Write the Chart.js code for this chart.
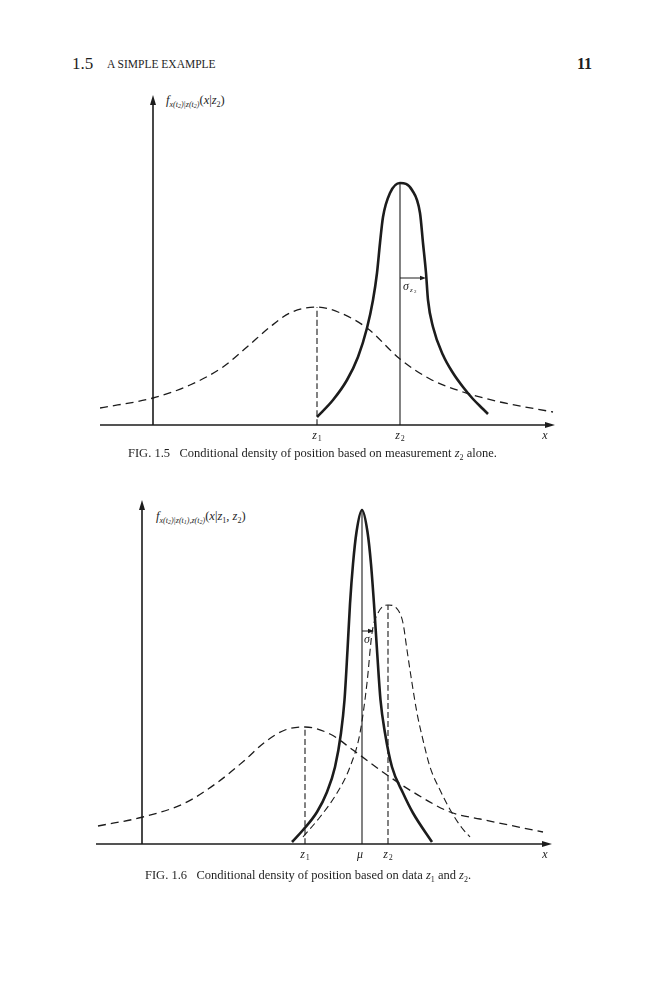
<!DOCTYPE html>
<html>
<head>
<meta charset="utf-8">
<script src="https://cdn.jsdelivr.net/npm/chart.js@4.4.1/dist/chart.umd.min.js"></script>
<style>
body { margin: 0; background: #fff; width: 666px; height: 1000px; position: relative; overflow: hidden;
       font-family: "Liberation Serif", "DejaVu Serif", serif; color: #1e1e1e; }
.txt { position: absolute; white-space: pre; line-height: 1; }
.ylab { position: absolute; white-space: nowrap; font-size: 12.5px; line-height: 1; }
.ylab .s1 { font-size: 8px; vertical-align: -3px; font-style: italic; }
.ylab .s2 { font-size: 6px; vertical-align: -1px; }
.ylab .s3 { font-size: 8px; vertical-align: -3px; }
canvas { position: absolute; left: 0; }
</style>
</head>
<body>
<div class="txt" style="left:72px;top:55px;font-size:17px">1.5</div>
<div class="txt" style="left:107px;top:59px;font-size:11.5px">A SIMPLE EXAMPLE</div>
<div class="txt" style="left:577px;top:56px;font-size:16px;font-weight:bold">11</div>

<div class="ylab" style="left:166px;top:94px"><i>f</i><span class="s1">x(t<span class="s2">2</span>)|z(t<span class="s2">2</span>)</span>(<i>x</i>|<i>z</i><span class="s3">2</span>)</div>
<canvas id="fig15" width="666" height="370" style="top:80px;width:666px;height:370px"></canvas>
<div class="txt" style="left:128px;top:447px;font-size:12.5px">FIG. 1.5   Conditional density of position based on measurement <i>z</i><span style="font-size:8px;vertical-align:-3px">2</span> alone.</div>

<div class="ylab" style="left:156px;top:510px"><i>f</i><span class="s1">x(t<span class="s2">2</span>)|z(t<span class="s2">1</span>),z(t<span class="s2">2</span>)</span>(<i>x</i>|<i>z</i><span class="s3">1</span>, <i>z</i><span class="s3">2</span>)</div>
<canvas id="fig16" width="666" height="385" style="top:485px;width:666px;height:385px"></canvas>
<div class="txt" style="left:145px;top:869px;font-size:12.5px">FIG. 1.6   Conditional density of position based on data <i>z</i><span style="font-size:8px;vertical-align:-3px">1</span> and <i>z</i><span style="font-size:8px;vertical-align:-3px">2</span>.</div>

<script>
// ---- Fig. 1.5 : density from z2 alone, with the z1 density dashed ----
var fig15Range = [-5.3, 40.2];
var fig15Top = 3.3;
var fig15PriorX = [-5.3, 0, 3.7, 7.0, 9.4, 11.7, 13.7, 16.4, 18.5, 21.4, 24.7, 27.7, 31.0, 34.7, 40.0];
var fig15PriorY = [0.17, 0.27, 0.40, 0.58, 0.78, 0.98, 1.12, 1.18, 1.13, 0.97, 0.66, 0.46, 0.33, 0.23, 0.13];
var fig15MeasX = [16.4, 18.0, 19.4, 20.5, 21.4, 22.0, 22.4, 22.7, 23.0, 23.7, 24.7, 25.9, 26.7, 27.0, 27.3, 27.5, 28.0, 29.0, 30.0, 31.0, 32.0, 33.0, 33.5];
var fig15MeasY = [0.08, 0.25, 0.45, 0.68, 0.97, 1.25, 1.52, 1.82, 2.08, 2.32, 2.42, 2.35, 2.12, 1.82, 1.52, 1.25, 0.98, 0.70, 0.52, 0.38, 0.26, 0.16, 0.11];
var fig15Z1 = 16.4, fig15Z1Peak = 1.18;
var fig15Z2 = 24.7, fig15Z2Peak = 2.42;
var fig15Sigma = 2.6, fig15SigmaLevel = 1.47;
var fig15TickValues = [16.4, 24.7, 39.2];
var fig15TickLabels = ['z|1', 'z|2', 'x'];

// ---- Fig. 1.6 : combined density from z1 and z2 ----
var fig16Range = [-4.6, 41.0];
var fig16Top = 3.44;
var fig16PriorX = [-4.4, 0.1, 4.3, 7.6, 10.3, 12.3, 14.3, 16.3, 18.8, 21.1, 24.5, 27.1, 30.8, 33.8, 40.1];
var fig16PriorY = [0.18, 0.27, 0.41, 0.62, 0.84, 1.02, 1.14, 1.17, 1.10, 0.94, 0.69, 0.52, 0.32, 0.25, 0.12];
var fig16MeasX = [16.1, 17.8, 19.5, 20.8, 21.8, 22.5, 23.0, 23.6, 24.6, 25.6, 26.1, 26.5, 27.0, 27.5, 28.1, 28.8, 29.8, 31.0, 32.0, 32.8];
var fig16MeasY = [0.07, 0.27, 0.51, 0.77, 1.11, 1.61, 2.11, 2.31, 2.39, 2.34, 2.21, 1.94, 1.61, 1.31, 1.04, 0.77, 0.54, 0.31, 0.16, 0.07];
var fig16PostX = [15.0, 16.1, 17.5, 18.5, 19.3, 19.9, 20.25, 20.55, 20.8, 21.1, 21.45, 22.0, 22.55, 22.9, 23.2, 23.5, 23.85, 24.3, 25.0, 26.1, 27.1, 29.0];
var fig16PostY = [0.02, 0.14, 0.32, 0.52, 0.77, 1.11, 1.44, 1.94, 2.40, 2.80, 3.12, 3.34, 3.12, 2.80, 2.40, 1.94, 1.44, 1.11, 0.77, 0.51, 0.31, 0.02];
var fig16Z1 = 16.3, fig16Z1Peak = 1.17;
var fig16Z2 = 24.6, fig16Z2Peak = 2.39;
var fig16Mu = 22.0, fig16MuPeak = 3.34;
var fig16Sigma = 1.2, fig16SigmaLevel = 2.13;
var fig16TickValues = [16.3, 21.8, 24.6, 40.3];
var fig16TickLabels = ['z|1', 'μ', 'z|2', 'x'];

var ink = '#1c1c1c';

function curve(xs, ys, width, dash) {
	return {
		data: xs.map(function(v, i) { return {x: v, y: ys[i]}; }),
		borderColor: ink,
		borderWidth: width,
		borderDash: dash || [],
		pointRadius: 0,
		cubicInterpolationMode: 'monotone',
		fill: false
	};
}

function arrowHead(ctx, x, y, dx, dy, len, half) {
	ctx.beginPath();
	ctx.moveTo(x, y);
	ctx.lineTo(x - dx * len - dy * half, y - dy * len + dx * half);
	ctx.lineTo(x - dx * len + dy * half, y - dy * len - dx * half);
	ctx.closePath();
	ctx.fill();
}

// axes with arrows, italic tick labels with subscripts, sigma label
var figureMarks = {
	id: 'figureMarks',
	afterDraw: function(chart, args, o) {
		var ctx = chart.ctx, xs = chart.scales.x, ys = chart.scales.y;
		var x0 = xs.getPixelForValue(0), y0 = ys.getPixelForValue(0);
		var xEnd = xs.getPixelForValue(xs.max), yEnd = ys.getPixelForValue(ys.max);
		ctx.save();
		ctx.strokeStyle = ink;
		ctx.fillStyle = ink;
		ctx.lineWidth = 1.6;
		ctx.beginPath();
		ctx.moveTo(xs.getPixelForValue(xs.min), y0);
		ctx.lineTo(xEnd - 4, y0);
		ctx.moveTo(x0, y0);
		ctx.lineTo(x0, yEnd + 4);
		ctx.stroke();
		arrowHead(ctx, xEnd, y0, 1, 0, 10, 3);
		arrowHead(ctx, x0, yEnd, 0, -1, 10, 3);

		// sigma arrow head
		var sx = xs.getPixelForValue(o.sigma.x + o.sigma.w), sy = ys.getPixelForValue(o.sigma.y);
		arrowHead(ctx, sx, sy, 1, 0, 6, 2.2);

		ctx.textBaseline = 'middle';
		o.ticks.forEach(function(t, i) {
			var parts = o.labels[i].split('|');
			var px = xs.getPixelForValue(t);
			ctx.font = 'italic 12px "Liberation Serif"';
			var w1 = ctx.measureText(parts[0]).width;
			var w2 = 0;
			if (parts[1]) { ctx.font = '8px "Liberation Serif"'; w2 = ctx.measureText(parts[1]).width + 1; }
			var left = px - (w1 + w2) / 2;
			ctx.font = 'italic 12px "Liberation Serif"';
			ctx.fillText(parts[0], left, y0 + 11);
			if (parts[1]) {
				ctx.font = '8px "Liberation Serif"';
				ctx.fillText(parts[1], left + w1 + 1, y0 + 14);
			}
		});

		var lx = xs.getPixelForValue(o.sigma.x) + o.sigma.dx;
		ctx.font = 'italic 12px "Liberation Serif"';
		ctx.fillText('σ', lx, sy + 9);
		if (o.sigma.sub) {
			var ws = ctx.measureText('σ').width;
			ctx.font = 'italic 7px "Liberation Serif"';
			ctx.fillText('z', lx + ws + 1, sy + 12);
			ctx.font = '5px "Liberation Serif"';
			ctx.fillText('2', lx + ws + 5, sy + 13.5);
		}
		ctx.restore();
	}
};

function makeFigure(id, range, top, sets, pad, ticks, labels, sigma) {
	return new Chart(document.getElementById(id).getContext('2d'), {
		type: 'line',
		data: { datasets: sets },
		options: {
			responsive: false,
			animation: false,
			layout: { padding: pad },
			scales: {
				x: { type: 'linear', min: range[0], max: range[1], display: false },
				y: { type: 'linear', min: 0, max: top, display: false }
			},
			plugins: {
				legend: { display: false },
				tooltip: { enabled: false },
				figureMarks: { ticks: ticks, labels: labels, sigma: sigma }
			}
		},
		plugins: [figureMarks]
	});
}

makeFigure('fig15', fig15Range, fig15Top, [
	curve(fig15PriorX, fig15PriorY, 1.3, [8, 5]),
	curve(fig15MeasX, fig15MeasY, 2.6),
	curve([fig15Z1, fig15Z1], [0, fig15Z1Peak], 1.1, [6, 3]),
	curve([fig15Z2, fig15Z2], [0, fig15Z2Peak], 1.1),
	curve([fig15Z2, fig15Z2 + fig15Sigma - 0.4], [fig15SigmaLevel, fig15SigmaLevel], 1)
], {left: 100, right: 111, top: 15, bottom: 25},
	fig15TickValues, fig15TickLabels,
	{x: fig15Z2, y: fig15SigmaLevel, w: fig15Sigma, dx: 3, sub: true});

makeFigure('fig16', fig16Range, fig16Top, [
	curve(fig16PriorX, fig16PriorY, 1.3, [8, 5]),
	curve(fig16MeasX, fig16MeasY, 1.1, [7, 4]),
	curve(fig16PostX, fig16PostY, 2.6),
	curve([fig16Z1, fig16Z1], [0, fig16Z1Peak], 1.1, [6, 3]),
	curve([fig16Z2, fig16Z2], [0, fig16Z2Peak], 1.1, [6, 3]),
	curve([fig16Mu, fig16Mu], [0, fig16MuPeak], 1.1),
	curve([fig16Mu, fig16Mu + fig16Sigma - 0.4], [fig16SigmaLevel, fig16SigmaLevel], 1)
], {left: 96, right: 114, top: 15, bottom: 26},
	fig16TickValues, fig16TickLabels,
	{x: fig16Mu, y: fig16SigmaLevel, w: fig16Sigma, dx: 2, sub: false});
</script>
</body>
</html>
